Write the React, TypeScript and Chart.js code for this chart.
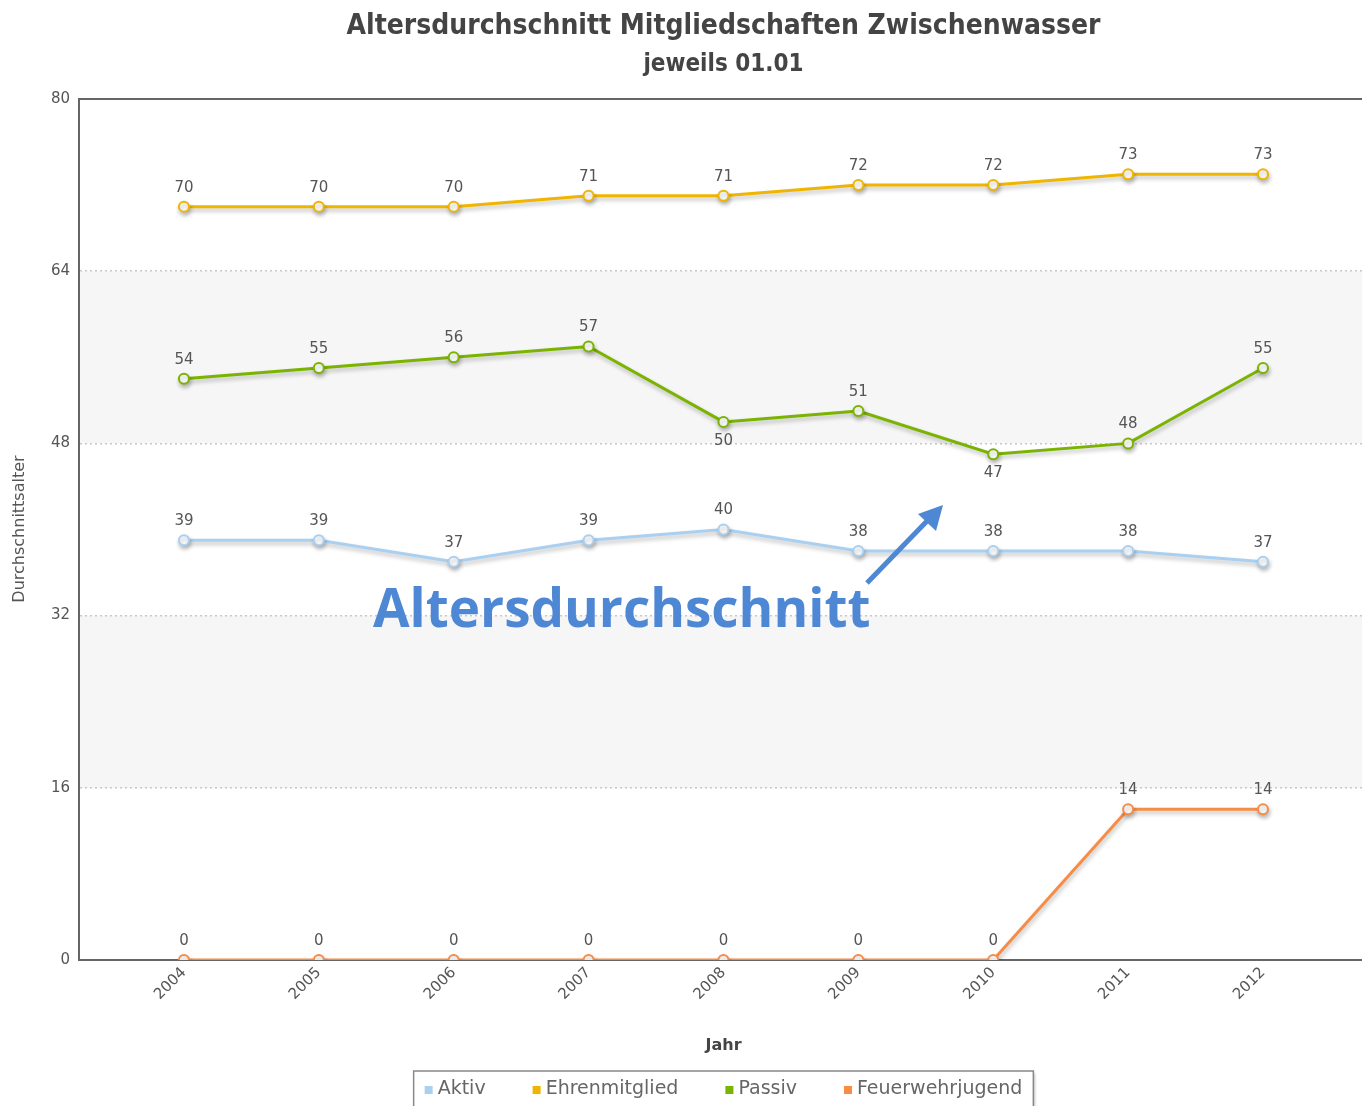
import React, { useEffect, useRef } from "react";
import { Chart, registerables } from "chart.js";

Chart.register(...registerables);

const years = ["2004", "2005", "2006", "2007", "2008", "2009", "2010", "2011", "2012"];
const seriesNames = ["Aktiv", "Ehrenmitglied", "Passiv", "Feuerwehrjugend"];
const aktiv = [39, 39, 37, 39, 40, 38, 38, 38, 37];
const ehrenmitglied = [70, 70, 70, 71, 71, 72, 72, 73, 73];
const passiv = [54, 55, 56, 57, 50, 51, 47, 48, 55];
const feuerwehrjugend = [0, 0, 0, 0, 0, 0, 0, 14, 14];
const passivLabelBelow = ["2008", "2010"];
const yTicks = [0, 16, 32, 48, 64, 80];
const titleText = "Altersdurchschnitt Mitgliedschaften Zwischenwasser";
const subtitleText = "jeweils 01.01";
const xTitle = "Jahr";
const yTitle = "Durchschnittsalter";
const annotationText = "Altersdurchschnitt";

const colors = ["#a9d0f0", "#f0b500", "#7ab300", "#f98c45"];

export default function App() {
  const ref = useRef<HTMLCanvasElement | null>(null);

  useEffect(() => {
    if (!ref.current) return;
    const seriesData = [aktiv, ehrenmitglied, passiv, feuerwehrjugend];

    const decor = {
      id: "decor",
      beforeDraw(chart: any) {
        const { ctx, chartArea } = chart;
        const y = chart.scales.y;
        ctx.save();
        ctx.fillStyle = "#ffffff";
        ctx.fillRect(0, 0, chart.width, chart.height);
        ctx.fillStyle = "#f6f6f6";
        for (let i = 0; i < yTicks.length - 1; i++) {
          if (i % 2 === 1) {
            const top = y.getPixelForValue(yTicks[i + 1]);
            const bot = y.getPixelForValue(yTicks[i]);
            ctx.fillRect(chartArea.left, top, chartArea.right - chartArea.left, bot - top);
          }
        }
        ctx.restore();
      },
      beforeDatasetDraw(chart: any) {
        const ctx = chart.ctx;
        ctx.save();
        ctx.shadowColor = "rgba(0,0,0,0.25)";
        ctx.shadowBlur = 4;
        ctx.shadowOffsetX = 1;
        ctx.shadowOffsetY = 3;
      },
      afterDatasetDraw(chart: any) {
        chart.ctx.restore();
      },
      afterDatasetsDraw(chart: any) {
        const { ctx } = chart;
        ctx.save();
        ctx.font = "15px 'DejaVu Sans'";
        ctx.fillStyle = "#555555";
        ctx.textAlign = "center";
        ctx.textBaseline = "middle";
        chart.data.datasets.forEach((ds: any, di: number) => {
          const meta = chart.getDatasetMeta(di);
          meta.data.forEach((pt: any, i: number) => {
            const below = di === 2 && passivLabelBelow.includes(years[i]);
            ctx.fillText(String(ds.data[i].y), pt.x, pt.y + (below ? 19 : -19));
          });
        });
        ctx.restore();
      },
      afterDraw(chart: any) {
        const { ctx, chartArea } = chart;
        const cx = (chartArea.left + chartArea.right) / 2 + 3;
        ctx.save();
        // top border
        ctx.strokeStyle = "#666666";
        ctx.lineWidth = 2;
        ctx.beginPath();
        ctx.moveTo(chartArea.left - 1, chartArea.top);
        ctx.lineTo(chartArea.right, chartArea.top);
        ctx.stroke();
        // titles
        ctx.fillStyle = "#444444";
        ctx.textAlign = "center";
        ctx.textBaseline = "middle";
        ctx.font = "bold 28px 'DejaVu Sans Condensed', 'DejaVu Sans'";
        ctx.fillText(titleText, cx, 27);
        ctx.font = "bold 24px 'DejaVu Sans Condensed', 'DejaVu Sans'";
        ctx.fillText(subtitleText, cx, 65);
        // axis titles
        ctx.font = "bold 16px 'DejaVu Sans'";
        ctx.fillStyle = "#444444";
        ctx.fillText(xTitle, cx, 1046);
        ctx.save();
        ctx.translate(20, 529);
        ctx.rotate(-Math.PI / 2);
        ctx.font = "16px 'DejaVu Sans'";
        ctx.fillStyle = "#555555";
        ctx.fillText(yTitle, 0, 0);
        ctx.restore();
        // annotation
        ctx.fillStyle = "#4e87d3";
        ctx.strokeStyle = "#4e87d3";
        ctx.font = "bold 53px 'Open Sans'";
        ctx.textAlign = "left";
        ctx.textBaseline = "alphabetic";
        ctx.fillText(annotationText, 373, 627);
        ctx.lineWidth = 5;
        ctx.beginPath();
        ctx.moveTo(867, 583);
        ctx.lineTo(928, 520);
        ctx.stroke();
        ctx.beginPath();
        ctx.moveTo(943, 505);
        ctx.lineTo(918, 514);
        ctx.lineTo(936, 531);
        ctx.closePath();
        ctx.fill();
        // legend
        ctx.font = "19px 'DejaVu Sans'";
        const gap = 47;
        let total = 0;
        const widths = seriesNames.map((n) => ctx.measureText(n).width);
        widths.forEach((w) => (total += 13 + w));
        total += gap * (seriesNames.length - 1);
        const boxW = total + 22;
        const boxX = cx - boxW / 2;
        ctx.save();
        ctx.shadowColor = "rgba(0,0,0,0.3)";
        ctx.shadowBlur = 3;
        ctx.shadowOffsetX = 2;
        ctx.shadowOffsetY = 2;
        ctx.fillStyle = "#ffffff";
        ctx.fillRect(boxX, 1071, boxW, 45);
        ctx.restore();
        ctx.strokeStyle = "#888888";
        ctx.lineWidth = 1.5;
        ctx.strokeRect(boxX, 1071, boxW, 45);
        let x = boxX + 11;
        ctx.textBaseline = "middle";
        seriesNames.forEach((n, i) => {
          ctx.fillStyle = colors[i];
          ctx.fillRect(x, 1086, 8, 8);
          ctx.fillStyle = "#666666";
          ctx.fillText(n, x + 13, 1089);
          x += 13 + widths[i] + gap;
        });
        ctx.restore();
      },
    };

    const chart = new Chart(ref.current, {
      type: "line",
      data: {
        datasets: seriesNames.map((name, i) => ({
          label: name,
          data: seriesData[i].map((v, j) => ({ x: +years[j], y: v })),
          borderColor: colors[i],
          backgroundColor: "#ffffff",
          pointBackgroundColor: "#ffffff",
          pointBorderColor: colors[i],
          pointRadius: 5,
          pointBorderWidth: 2,
          borderWidth: 3,
          tension: 0,
        })),
      },
      options: {
        animation: false,
        responsive: false,
        maintainAspectRatio: false,
        layout: { autoPadding: false, padding: { top: 99, left: 0, right: 0, bottom: 0 } },
        plugins: { legend: { display: false }, title: { display: false }, tooltip: { enabled: false } },
        scales: {
          x: {
            type: "linear",
            min: 2003.222,
            max: 2012.734,
            afterBuildTicks: (scale: any) => {
              scale.ticks = years.map((y) => ({ value: +y }));
            },
            afterFit: (scale: any) => {
              scale.height = 146;
              scale.paddingLeft = 0;
              scale.paddingRight = 0;
            },
            ticks: {
              minRotation: 45,
              maxRotation: 45,
              autoSkip: false,
              padding: 4,
              color: "#555555",
              font: { family: "'DejaVu Sans'", size: 15 },
              callback: (v: any) => String(v),
            },
            grid: { display: false, drawTicks: false },
            border: { display: true, color: "#666666", width: 2 },
          },
          y: {
            min: 0,
            max: 80,
            afterBuildTicks: (scale: any) => {
              scale.ticks = yTicks.map((v) => ({ value: v }));
            },
            afterFit: (scale: any) => {
              scale.width = 79;
            },
            ticks: {
              padding: 9,
              color: "#555555",
              font: { family: "'DejaVu Sans'", size: 15 },
            },
            grid: {
              drawTicks: false,
              color: (c: any) => (c.tick && (c.tick.value === 0 || c.tick.value === 80) ? "rgba(0,0,0,0)" : "#c8c8c8"),
              lineWidth: 1.5,
            },
            border: { display: true, color: "#666666", width: 2, dash: [2, 3] },
          },
        },
      },
      plugins: [decor],
    } as any);
    return () => chart.destroy();
  }, []);

  return (
    <div style={{ position: "absolute", left: 0, top: 0, width: 1362, height: 1106, overflow: "hidden" }}>
      <canvas ref={ref} width={1362} height={1106} style={{ display: "block", width: 1362, height: 1106 }} />
    </div>
  );
}
